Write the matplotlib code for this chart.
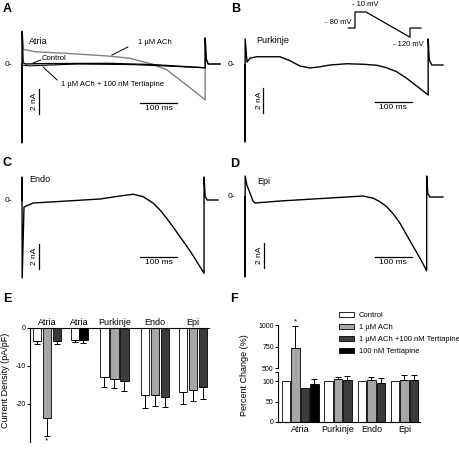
import matplotlib
matplotlib.use("Agg")
import matplotlib.pyplot as plt
from matplotlib.patches import Patch

plt.rcParams['font.family'] = ['Liberation Sans', 'DejaVu Sans']

# ---------------- trace data (time in ms, current in nA) ----------------
atria_ach_t = [0, 0, 0.5, 3.5, 35, 116, 232, 278, 292, 327, 354, 392, 427, 462, 495, 495, 498, 503, 535]
atria_ach_i = [0, -6.3, 2.6, 1.18, 0.98, 0.86, 0.64, 0.50, 0.46, 0.18, -0.02, -0.48, -1.28, -2.08, -2.88, 2.08, 0.4, 0.0, 0.0]

atria_ctl_t = [0, 0, 0.5, 3, 10, 50, 238, 354, 495, 495, 498, 503, 535]
atria_ctl_i = [0, -6.3, 2.6, 0.1, 0.0, 0.03, 0.05, -0.05, -0.3, 2.08, 0.4, 0.0, 0.0]

atria_tert_t = [3, 20, 60, 150, 300, 495]
atria_tert_i = [-0.1, -0.15, -0.1, 0.0, -0.05, -0.3]

purk_t = [0, 0, 0.5, 5.4, 13.5, 31.5, 94.6, 121.6, 148.6, 175.7, 202.7, 229.7, 274.8, 319.8,
          356, 383, 410, 437, 464, 495, 495, 498, 505, 535]
purk_i = [0, -6.16, 2.08, 0.24, 0.54, 0.66, 0.66, 0.34, -0.08, -0.24, -0.14, 0.0, 0.1, 0.06,
          -0.02, -0.22, -0.54, -1.06, -1.68, -2.4, 2.08, 0.4, 0.0, 0.0]

endo_t = [0, 0, 0.5, 5.4, 30, 122, 211, 265, 284, 301, 328, 355, 373, 391, 409, 427, 445,
          463, 481, 492, 492, 495, 500, 530]
endo_i = [0, 1.84, -6.24, -0.56, -0.24, -0.08, 0.08, 0.32, 0.4, 0.46, 0.26, -0.26, -0.8, -1.46,
          -2.18, -2.94, -3.68, -4.48, -5.34, -5.86, 1.84, 0.3, 0.0, 0.0]

epi_t = [0, 0, 0.5, 5, 13.5, 21.6, 27, 95, 184, 276, 319, 347, 365, 383, 401, 419, 437, 455,
         473, 491, 491, 494, 499, 535]
epi_i = [0, -6.4, 1.68, 0.96, 0.32, -0.32, -0.48, -0.32, -0.16, 0.0, 0.08, -0.1, -0.38, -0.78,
         -1.36, -2.1, -3.04, -3.98, -4.9, -5.9, 1.68, 0.3, 0.0, 0.0]

# voltage protocol (ms, mV)
prot_t = [-60, 0, 0, 100, 500, 500, 600]
prot_v = [-80, -80, -10, -10, -120, -80, -80]

# ---------------- bar data ----------------
e_groups = ['Atria', 'Atria', 'Purkinje', 'Endo', 'Epi']
e_means = [[-3.4, -23.8, -3.5], [-3.2, -3.2], [-12.9, -13.3, -14.0],
           [-17.6, -17.5, -18.2], [-16.8, -16.3, -15.6]]
e_sem = [[0.8, 4.7, 0.7], [0.6, 0.7], [2.6, 2.6, 2.6],
         [3.4, 3.1, 2.6], [3.2, 3.0, 3.0]]

f_groups = ['Atria', 'Purkinje', 'Endo', 'Epi']
f_means = [[100, 730, 82, 92], [100, 104, 103], [100, 103, 96], [100, 103, 103]]
f_sem = [[0, 255, 0, 13], [0, 5, 9], [0, 6, 12], [0, 12, 12]]

legend_labels = ['Control', '1 \u00b5M ACh', '1 \u00b5M ACh +100 nM Tertiapine', '100 nM Tertiapine']

WHITE, GRAY, DARK, BLACK = 'white', '#a6a6a6', '#3c3c3c', 'black'
e_colors = [[WHITE, GRAY, DARK], [WHITE, BLACK], [WHITE, GRAY, DARK],
            [WHITE, GRAY, DARK], [WHITE, GRAY, DARK]]
f_colors = [[WHITE, GRAY, DARK, BLACK], [WHITE, GRAY, DARK], [WHITE, GRAY, DARK], [WHITE, GRAY, DARK]]

W, H = 460, 451
fig = plt.figure(figsize=(W / 100, H / 100), dpi=100)

PX_MS = 0.37   # pixels per ms
PX_NA = 12.5   # pixels per nA


def px_axes(l, t, r, b):
    return fig.add_axes([l / W, 1 - b / H, (r - l) / W, (b - t) / H])


def trace_axes(x0, y0):
    l, r, t, b = x0 - 25, x0 + 210, y0 - 45, y0 + 85
    ax = px_axes(l, t, r, b)
    ax.set_xlim((l - x0) / PX_MS, (r - x0) / PX_MS)
    ax.set_ylim((y0 - b) / PX_NA, (y0 - t) / PX_NA)
    ax.axis('off')
    ax.text(-27, 0, '0-', ha='right', va='center', fontsize=6)
    return ax


def scale_bars(ax, vx, vy, hx, hy):
    ax.plot([vx, vx], [vy, vy + 2], color='black', lw=0.9)
    ax.text(vx - 11, vy + 1, '2 nA', rotation=90, ha='center', va='center', fontsize=6)
    ax.plot([hx, hx + 100], [hy, hy], color='black', lw=0.9)
    ax.text(hx + 50, hy - 0.45, '100 ms', ha='center', va='center', fontsize=6)


def panel_letter(x, y, s):
    fig.text(x / W, 1 - y / H, s, fontsize=9, fontweight='bold', ha='left', va='center')


# ---- A: Atria ----
axA = trace_axes(22, 64)
axA.plot(atria_ach_t, atria_ach_i, color='#808080', lw=1.0)
axA.plot(atria_tert_t, atria_tert_i, color='black', lw=0.8)
axA.plot(atria_ctl_t, atria_ctl_i, color='black', lw=1.0)
axA.text(19, 1.84, 'Atria', fontsize=6.5, va='center')
axA.text(313, 1.68, '1 \u00b5M ACh', fontsize=5.5, va='center')
axA.plot([243, 286], [0.72, 1.36], color='black', lw=0.7)
axA.text(54, 0.4, 'Control', fontsize=5.5, va='center')
axA.plot([30, 51], [0.08, 0.32], color='black', lw=0.7)
axA.text(105, -1.68, '1 \u00b5M ACh + 100 nM Tertiapine', fontsize=5.5, va='center')
axA.plot([57, 95], [-0.24, -1.28], color='black', lw=0.7)
scale_bars(axA, 46, -4.0, 319, -3.12)

# ---- B: Purkinje ----
axB = trace_axes(245, 65)
axB.plot(purk_t, purk_i, color='black', lw=1.0)
axB.text(30, 1.92, 'Purkinje', fontsize=6.5, va='center')
scale_bars(axB, 49, -3.84, 351, -2.96)

axP = px_axes(320, 0, 430, 50)
axP.set_xlim((320 - 355) / 0.11, (430 - 355) / 0.11)
axP.set_ylim(-10 - (50 - 12) / 0.229, -10 + 12 / 0.229)
axP.axis('off')
axP.plot(prot_t, prot_v, color='black', lw=0.9)
axP.text(-27, 20.6, '- 10 mV', fontsize=5.5, ha='left', va='center')
axP.text(-36, -58, '- 80 mV', fontsize=5.5, ha='right', va='center')
axP.text(345, -150, '- 120 mV', fontsize=5.5, ha='left', va='center')

# ---- C: Endo ----
axC = trace_axes(22, 200)
axC.plot(endo_t, endo_i, color='black', lw=1.0)
axC.text(19, 1.6, 'Endo', fontsize=6.5, va='center')
scale_bars(axC, 46, -5.5, 319, -4.56)

# ---- D: Epi ----
axD = trace_axes(245, 197)
axD.plot(epi_t, epi_i, color='black', lw=1.0)
axD.text(32, 1.2, 'Epi', fontsize=6.5, va='center')
scale_bars(axD, 51, -5.7, 351, -4.8)

# ---- E: current density ----
axE = px_axes(30, 328, 209, 442)
e_pos = [[0.7, 1.7, 2.7], [4.5, 5.35], [7.45, 8.45, 9.45], [11.5, 12.5, 13.5], [15.3, 16.3, 17.3]]
for pos, m, s, c in zip(e_pos, e_means, e_sem, e_colors):
    axE.bar(pos, m, width=0.85, color=c, edgecolor='black', linewidth=0.6)
    axE.errorbar(pos, m, yerr=[s, [0] * len(s)], fmt='none', ecolor='black',
                 elinewidth=0.7, capsize=2, capthick=0.7)
axE.text(e_pos[0][1], -29.6, '*', ha='center', va='center', fontsize=6)
axE.set_xlim(0, 17.9)
axE.set_ylim(-30, 0)
axE.set_yticks([0, -10, -20])
axE.set_yticklabels(['0', '-10', '-20'])
axE.tick_params(axis='y', length=2, width=0.7, labelsize=5, pad=1)
axE.xaxis.tick_top()
axE.set_xticks([sum(p) / len(p) for p in e_pos])
axE.set_xticklabels(e_groups)
axE.tick_params(axis='x', length=0, labelsize=6.5, pad=1)
for sp in ['bottom', 'right']:
    axE.spines[sp].set_visible(False)
for sp in ['left', 'top']:
    axE.spines[sp].set_linewidth(0.8)
fig.text(6 / W, 1 - 380 / H, 'Current Density (pA/pF)', rotation=90,
         ha='center', va='center', fontsize=6.5)

# ---- F: percent change (broken axis) ----
axF = px_axes(278, 372, 420, 422)
axFu = px_axes(278, 325, 420, 372)
f_pos = [[0.8, 1.75, 2.7, 3.65], [5.05, 6.0, 6.95], [8.4, 9.35, 10.3], [11.7, 12.65, 13.6]]
for a in (axF, axFu):
    for pos, m, s, c in zip(f_pos, f_means, f_sem, f_colors):
        a.bar(pos, m, width=0.85, color=c, edgecolor='black', linewidth=0.6)
        errp = [p for p, e in zip(pos, s) if e > 0]
        errm = [v for v, e in zip(m, s) if e > 0]
        errs = [e for e in s if e > 0]
        a.errorbar(errp, errm, yerr=[[0] * len(errs), errs], fmt='none', ecolor='black',
                   elinewidth=0.7, capsize=2, capthick=0.7)
    a.set_xlim(0, 14.2)
    for sp in ['top', 'right']:
        a.spines[sp].set_visible(False)
axF.set_ylim(0, 122)
axF.set_yticks([0, 50, 100, 122])
axF.set_yticklabels(['0', '50', '100', ''])
axF.set_xticks([sum(p) / len(p) for p in f_pos])
axF.set_xticklabels(f_groups)
axF.tick_params(axis='x', length=0, labelsize=6.5, pad=2)
axF.tick_params(axis='y', length=2, width=0.7, labelsize=5, pad=1)
axFu.set_ylim(455, 1000)
axFu.spines['bottom'].set_visible(False)
axFu.spines['left'].set_bounds(500, 1000)
axFu.set_xticks([])
axFu.set_yticks([500, 750, 1000])
axFu.tick_params(axis='y', length=2, width=0.7, labelsize=5, pad=1)
axFu.text(f_pos[0][1], 1040, '*', ha='center', va='center', fontsize=6, clip_on=False)
for a in (axF, axFu):
    for sp in ['left', 'bottom']:
        a.spines[sp].set_linewidth(0.8)
fig.text(245 / W, 1 - 375 / H, 'Percent Change (%)', rotation=90,
         ha='center', va='center', fontsize=6.5)

handles = [Patch(facecolor=c, edgecolor='black', linewidth=0.6) for c in [WHITE, GRAY, DARK, BLACK]]
fig.legend(handles, legend_labels, loc='upper left', bbox_to_anchor=(339 / W, 1 - 312 / H),
           frameon=False, fontsize=5.5, handlelength=2.0, handleheight=0.7,
           handletextpad=0.6, labelspacing=0.6, borderpad=0, borderaxespad=0)

panel_letter(3, 9, 'A')
panel_letter(231, 9, 'B')
panel_letter(3, 163, 'C')
panel_letter(230, 164, 'D')
panel_letter(3, 299, 'E')
panel_letter(230, 299, 'F')

fig.savefig('out.png', dpi=100)
